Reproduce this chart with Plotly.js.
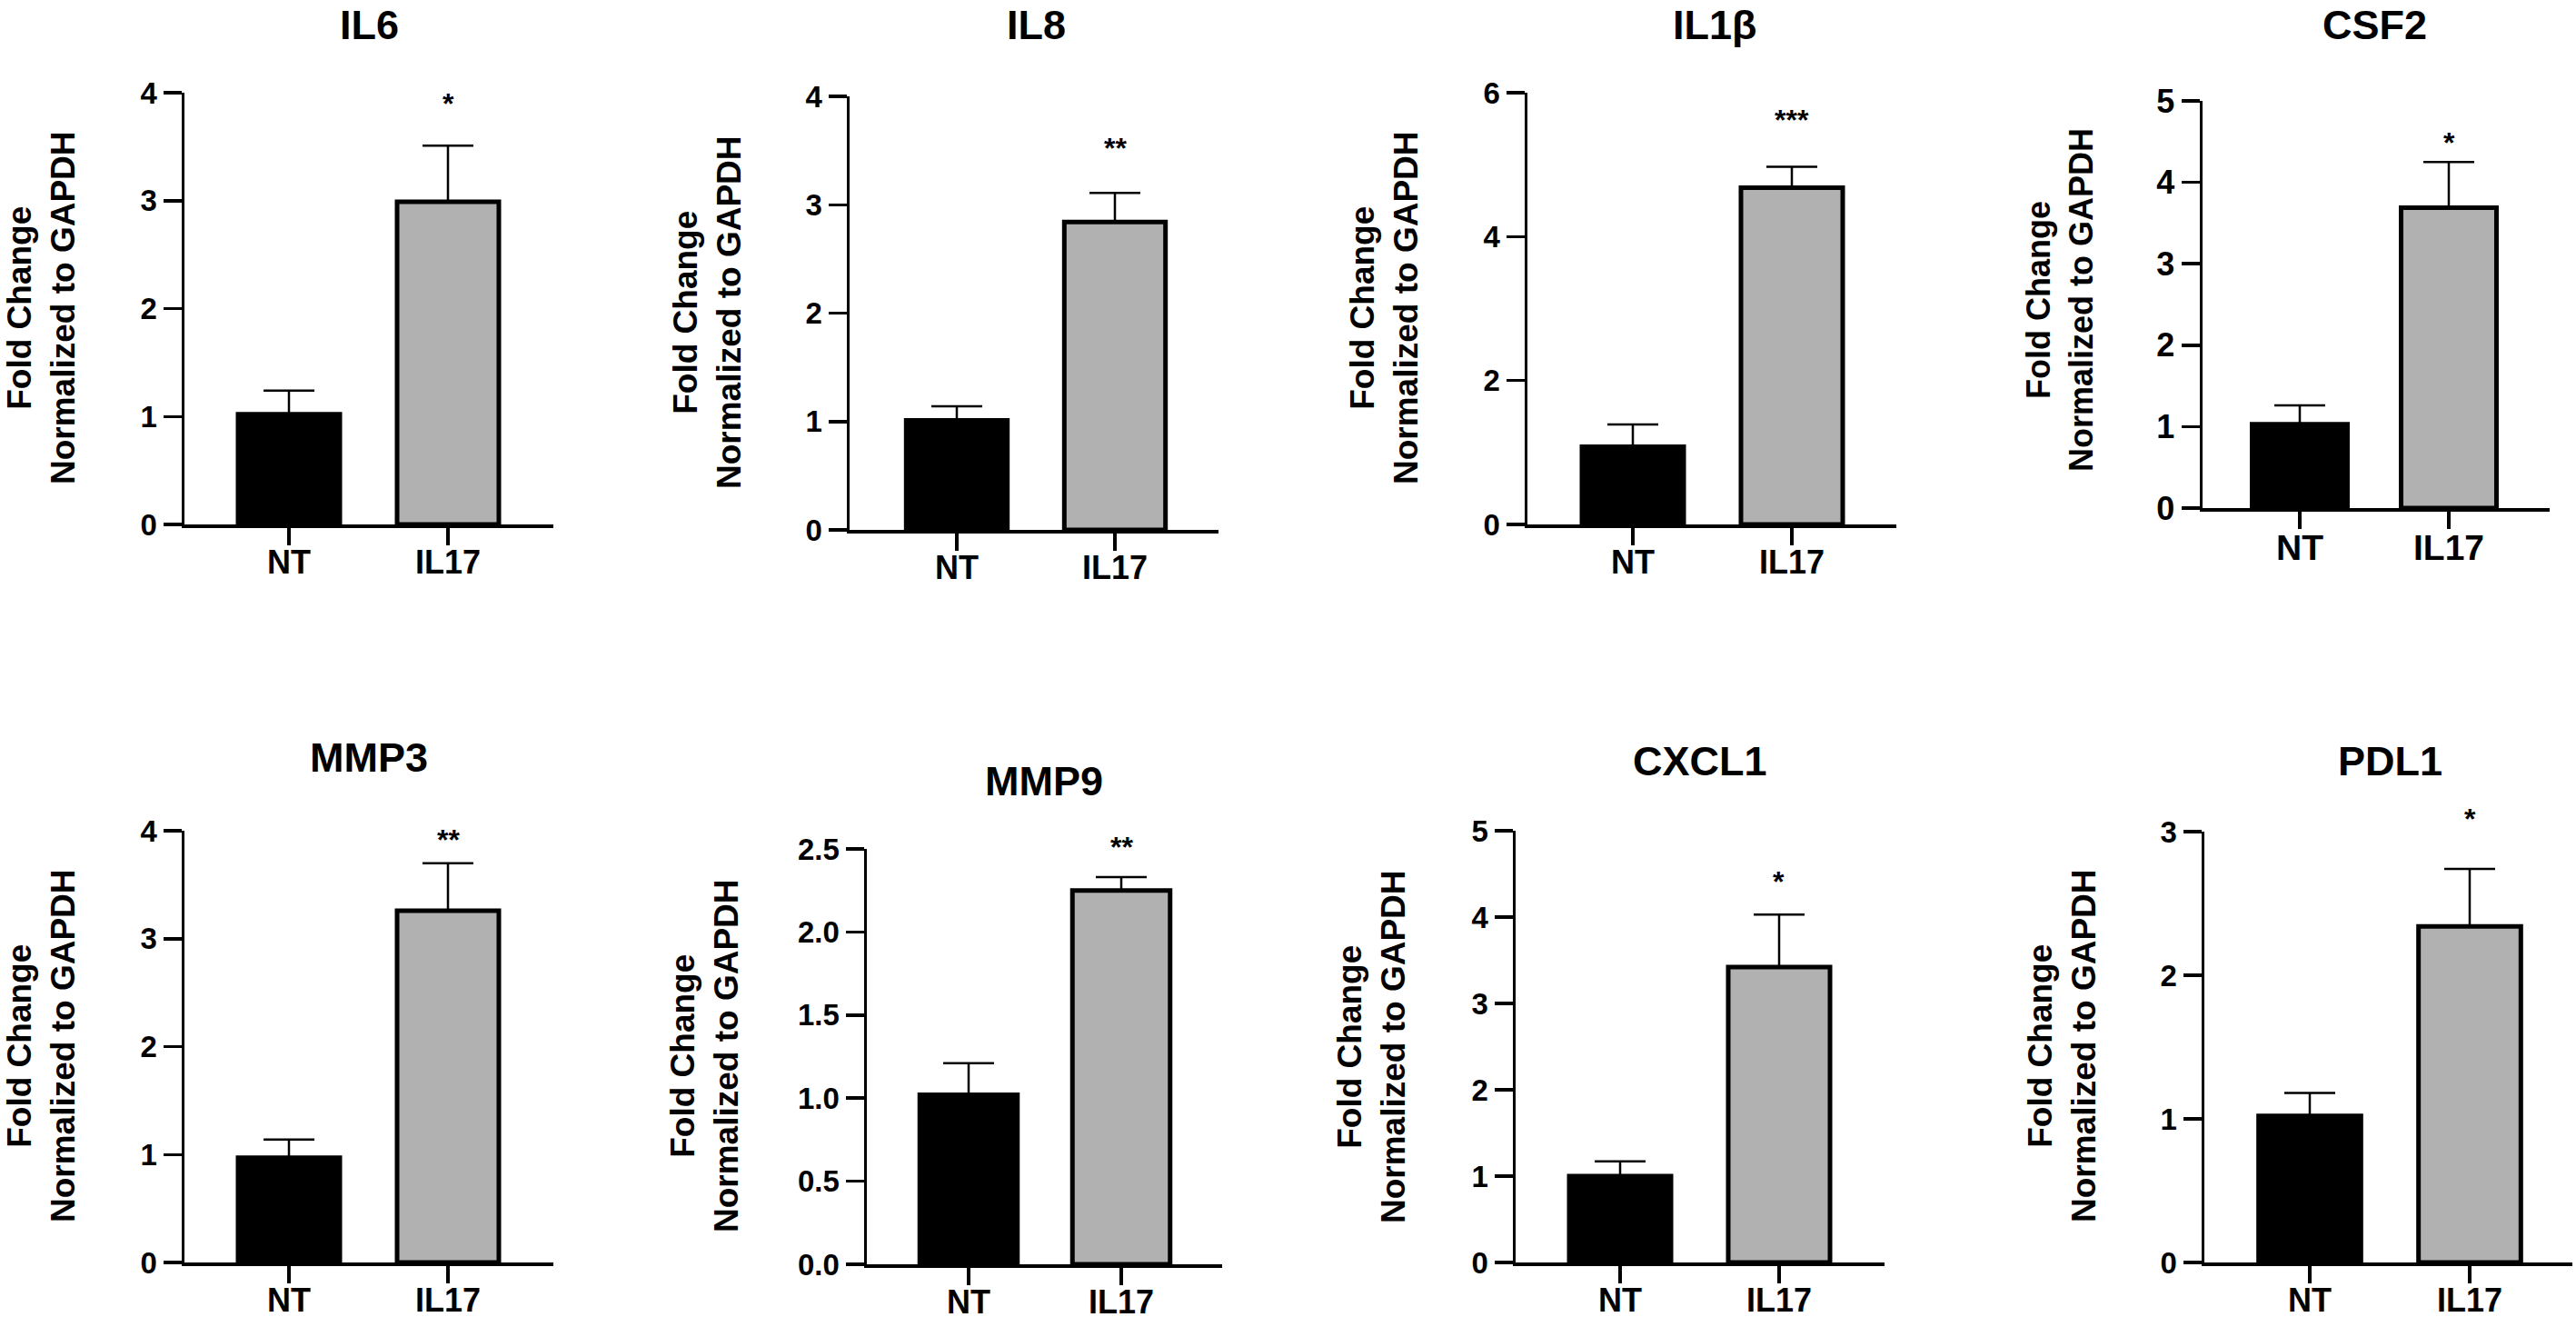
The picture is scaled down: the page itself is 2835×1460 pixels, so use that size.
<!DOCTYPE html>
<html>
<head>
<meta charset="utf-8">
<script src="https://cdn.plot.ly/plotly-3.0.1.min.js"></script>
<style>
  html, body { margin: 0; padding: 0; background: #fff; }
  #chart { width: 2835px; height: 1460px; }
</style>
</head>
<body>
<div id="chart"></div>
<script>
// values: mean + SEM, fold change normalized to GAPDH
var genes = ['IL6', 'IL8', 'IL1β', 'CSF2', 'MMP3', 'MMP9', 'CXCL1', 'PDL1'];
var groups = ['NT', 'IL17'];
var ntMean = [1.02, 1.01, 1.08, 1.03, 0.97, 1.02, 1.00, 1.02];
var ntSem = [0.22, 0.13, 0.31, 0.23, 0.17, 0.19, 0.17, 0.16];
var il17Mean = [2.99, 2.84, 4.68, 3.69, 3.26, 2.25, 3.42, 2.34];
var il17Sem = [0.52, 0.27, 0.29, 0.56, 0.44, 0.08, 0.61, 0.40];
var stars = ['*', '**', '***', '*', '**', '**', '*', '*'];
var yMax = [4, 4, 6, 5, 4, 2.5, 5, 3];
var yStep = [1, 1, 2, 1, 1, 0.5, 1, 1];

var FONT = 'Liberation Sans, Arial, Helvetica, sans-serif';
var W = 2835, H = 1460;
var TITLE_SIZE = 45;

// where each panel sits on the page (pixels); starY is in pixels too
var panels = [
  {axisX: 203,  endX: 609,  ntX: 318,  ilX: 493,  topY: 102, baseY: 577,  titleX: 406,  titleY: 23,  labX: 45,   labY: 339,  starY: 108, tick: 33, xtick: 36, lab: 37},
  {axisX: 935,  endX: 1341, ntX: 1053, ilX: 1227, topY: 106, baseY: 583,  titleX: 1140, titleY: 24,  labX: 778,  labY: 344,  starY: 157, tick: 33, xtick: 36, lab: 37},
  {axisX: 1681, endX: 2087, ntX: 1797, ilX: 1972, topY: 102, baseY: 577,  titleX: 1887, titleY: 23,  labX: 1523, labY: 339,  starY: 126, tick: 33, xtick: 36, lab: 37},
  {axisX: 2424, endX: 2806, ntX: 2531, ilX: 2695, topY: 111, baseY: 559,  titleX: 2613, titleY: 22,  labX: 2267, labY: 330,  starY: 151, tick: 36, xtick: 39, lab: 36},
  {axisX: 203,  endX: 609,  ntX: 318,  ilX: 493,  topY: 914, baseY: 1389, titleX: 406,  titleY: 832, labX: 45,   labY: 1151, starY: 918, tick: 33, xtick: 36, lab: 37},
  {axisX: 954,  endX: 1345, ntX: 1066, ilX: 1234, topY: 934, baseY: 1391, titleX: 1149, titleY: 858, labX: 775,  labY: 1162, starY: 926, tick: 33, xtick: 36, lab: 37},
  {axisX: 1668, endX: 2074, ntX: 1783, ilX: 1958, topY: 914, baseY: 1389, titleX: 1871, titleY: 836, labX: 1509, labY: 1151, starY: 964, tick: 33, xtick: 36, lab: 37},
  {axisX: 2426, endX: 2831, ntX: 2542, ilX: 2718, topY: 915, baseY: 1389, titleX: 2630, titleY: 836, labX: 2269, labY: 1151, starY: 895, tick: 33, xtick: 36, lab: 37}
];

var traces = [];
var layout = {
  width: W, height: H,
  margin: {l: 0, r: 0, t: 0, b: 0},
  showlegend: false,
  paper_bgcolor: '#fff', plot_bgcolor: '#fff',
  font: {family: FONT, color: '#000'},
  annotations: []
};

for (var i = 0; i < genes.length; i++) {
  var p = panels[i];
  var sfx = i === 0 ? '' : String(i + 1);
  var xa = 'x' + sfx, ya = 'y' + sfx;
  var step = p.ilX - p.ntX;

  traces.push({
    type: 'bar',
    x: groups,
    y: [ntMean[i], il17Mean[i]],
    xaxis: xa, yaxis: ya,
    width: 0.64,
    marker: {color: ['#000000', '#b1b1b1'], line: {color: '#000', width: 5}},
    error_y: {
      type: 'data', symmetric: false,
      array: [ntSem[i], il17Sem[i]], arrayminus: [0, 0],
      color: '#000', thickness: 2.5, width: 28
    },
    hoverinfo: 'skip'
  });

  layout['xaxis' + sfx] = {
    domain: [p.axisX / W, p.endX / W],
    anchor: ya, type: 'category',
    range: [-(p.ntX - p.axisX) / step, 1 + (p.endX - p.ilX) / step],
    showline: true, linewidth: 3.5, linecolor: '#000',
    ticks: 'outside', ticklen: 19, tickwidth: 3.5, tickcolor: '#000',
    ticklabelstandoff: -12,
    showgrid: false, zeroline: false, fixedrange: true,
    tickfont: {family: FONT, size: p.xtick, weight: 'bold', color: '#000'}
  };

  layout['yaxis' + sfx] = {
    domain: [1 - p.baseY / H, 1 - p.topY / H],
    anchor: xa,
    range: [0, yMax[i]], tick0: 0, dtick: yStep[i],
    tickformat: yStep[i] < 1 ? '.1f' : 'd',
    showline: true, linewidth: 3.5, linecolor: '#000',
    ticks: 'outside', ticklen: 20, tickwidth: 3.5, tickcolor: '#000',
    showgrid: false, zeroline: false, fixedrange: true,
    tickfont: {family: FONT, size: p.tick, weight: 'bold', color: '#000'}
  };

  // panel title, anchored by its box top so it never runs off the page
  var boxTop = Math.max(0, p.titleY - 26);
  layout.annotations.push({
    xref: 'paper', yref: 'paper',
    x: p.titleX / W, y: 1 - boxTop / H,
    xanchor: 'center', yanchor: 'top',
    text: genes[i], showarrow: false,
    font: {family: FONT, size: TITLE_SIZE, weight: 'bold', color: '#000'}
  });

  // y axis title
  layout.annotations.push({
    xref: 'paper', yref: 'paper',
    x: p.labX / W, y: 1 - p.labY / H,
    xanchor: 'center', yanchor: 'middle',
    textangle: -90,
    text: 'Fold Change<br>Normalized to GAPDH', showarrow: false,
    font: {family: FONT, size: p.lab, weight: 'bold', color: '#000'}
  });

  // significance marks over the IL17 bar
  layout.annotations.push({
    xref: xa, yref: 'paper',
    x: groups[1], y: 1 - (p.starY + 6) / H,
    xanchor: 'center', yanchor: 'middle',
    text: stars[i], showarrow: false,
    font: {family: FONT, size: 32, weight: 'bold', color: '#000'}
  });
}

Plotly.newPlot('chart', traces, layout, {staticPlot: true, displayModeBar: false});
</script>
</body>
</html>
